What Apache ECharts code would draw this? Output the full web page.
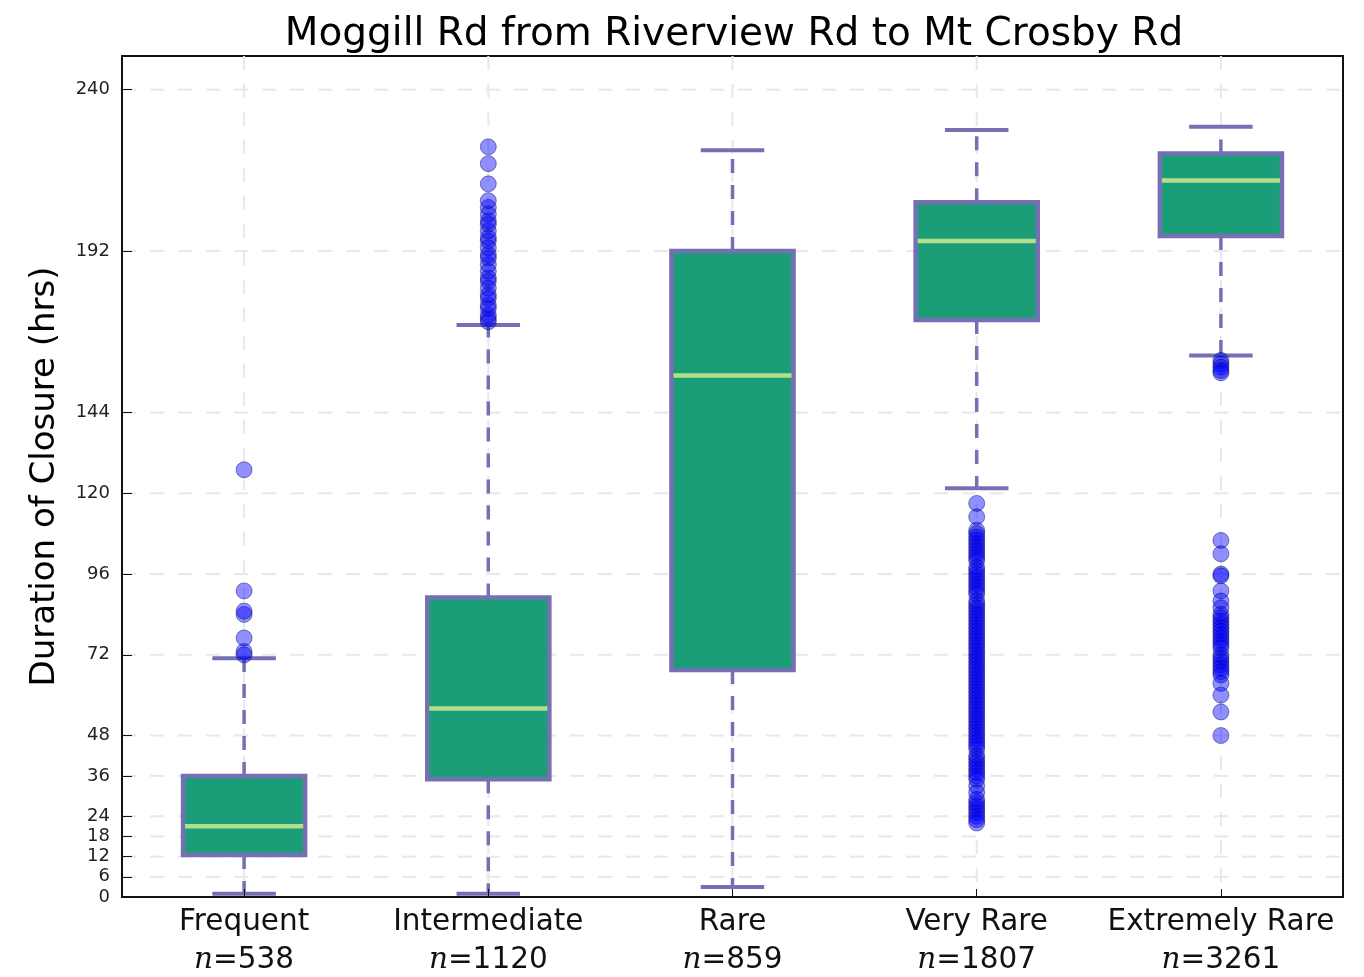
<!DOCTYPE html>
<html>
<head>
<meta charset="utf-8">
<script src="https://cdn.jsdelivr.net/npm/echarts@6/dist/echarts.min.js"></script>
<style>html,body{margin:0;padding:0;background:#fff;}#c{width:1364px;height:977px;}</style>
</head>
<body>
<div id="c"></div>
<script>
const titleText = 'Moggill Rd from Riverview Rd to Mt Crosby Rd';
const yAxisName = 'Duration of Closure (hrs)';
const categories = ['Frequent', 'Intermediate', 'Rare', 'Very Rare', 'Extremely Rare'];
const counts = [538, 1120, 859, 1807, 3261];
const yTicks = [0, 6, 12, 18, 24, 36, 48, 72, 96, 120, 144, 192, 240];
// [lower whisker, Q1, median, Q3, upper whisker]
const boxFrequent = [1, 12.5, 21, 36, 71];
const boxIntermediate = [1, 35, 56, 89, 170];
const boxRare = [3, 67.5, 155, 192, 222];
const boxVeryRare = [121.5, 171.5, 195, 206.5, 228];
const boxExtremelyRare = [161, 196.5, 213, 221, 229];
const outFrequent = [72, 73, 77, 84, 85, 91, 127];
const outIntermediate = [171, 172, 173, 175, 176, 178, 179, 181, 183, 184, 186, 188, 190, 191, 193, 195, 196, 198, 200, 201, 203, 205, 207, 212, 218, 223];
const outRare = [];
const outVeryRare = [117, 113, 109, 108, 107, 106, 105, 104, 103, 102, 101, 100, 98, 97, 96, 95, 94, 93, 92, 91, 90, 88, 87, 86, 85, 84, 83, 82, 81, 80, 79, 78, 77, 76, 75, 74, 73, 72, 71, 70, 69, 68, 67, 66, 65, 64, 63, 62, 61, 60, 59, 58, 57, 56, 55, 54, 53, 52, 51, 50, 49, 48, 47, 46, 45, 44, 42, 41, 40, 39, 38, 37, 36, 35, 33, 31, 29, 28, 27, 26, 25, 24, 23, 22];
const outExtremelyRare = [159.5, 158.5, 157.5, 156.5, 155.8, 106, 102, 96, 95.5, 91, 88, 86, 84, 83, 82, 81, 80, 79, 78, 77, 76, 75, 74, 72, 71, 70, 69, 68, 67, 66, 63.5, 60, 55, 48];

const boxes = [boxFrequent, boxIntermediate, boxRare, boxVeryRare, boxExtremelyRare];
const outliers = [outFrequent, outIntermediate, outRare, outVeryRare, outExtremelyRare];

const boxData = boxes.map((b, i) => [i].concat(b));
const outData = [];
outliers.forEach((arr, i) => arr.forEach(v => outData.push([i, v])));

const PURPLE = '#7570b3', GREEN = '#1b9e77', MED = '#b2df8a';
const FONT = 'DejaVu Sans';
const GRID_STYLE = {stroke: '#e8e8e8', lineWidth: 2, lineDash: [14, 14], fill: null};

const chart = echarts.init(document.getElementById('c'), null, {renderer: 'canvas'});
chart.setOption({
  animation: false,
  backgroundColor: '#fff',
  title: {
    text: titleText, left: 729, top: 10, textAlign: 'center',
    textStyle: {fontFamily: FONT, fontSize: 39, fontWeight: 'normal', color: '#000'}
  },
  grid: {left: 122, right: 21, top: 56, bottom: 80, show: true, borderColor: '#111', borderWidth: 2, backgroundColor: 'transparent'},
  xAxis: {
    type: 'category', data: categories, boundaryGap: true, z: 5,
    axisLine: {show: true, lineStyle: {color: '#111', width: 2}},
    axisTick: {show: true, inside: true, alignWithLabel: true, length: 8, lineStyle: {color: '#111', width: 1}},
    splitLine: {show: false},
    axisLabel: {
      margin: 6,
      formatter: (v, idx) => '{a|' + v + '}\n{i|n}{b|=' + counts[idx] + '}',
      rich: {
        a: {fontFamily: FONT, fontSize: 29.5, color: '#111', lineHeight: 38},
        i: {fontFamily: 'DejaVu Serif', fontStyle: 'italic', fontSize: 29.5, color: '#111', lineHeight: 38},
        b: {fontFamily: FONT, fontSize: 29.5, color: '#111', lineHeight: 38}
      }
    }
  },
  yAxis: {
    type: 'value', min: 0, max: 250, z: 5,
    name: yAxisName, nameLocation: 'middle', nameGap: 60,
    nameTextStyle: {fontFamily: FONT, fontSize: 34, color: '#000'},
    axisLine: {show: true, lineStyle: {color: '#111', width: 2}},
    axisTick: {show: true, inside: true, length: 10, customValues: yTicks, lineStyle: {color: '#111', width: 1}},
    axisLabel: {customValues: yTicks, fontFamily: FONT, fontSize: 18, color: '#222', margin: 12},
    splitLine: {show: false}
  },
  series: [
    {
      // horizontal dashed grid lines at tick values
      type: 'custom', z: 0, silent: true,
      data: yTicks.map(v => [0, v]),
      encode: {x: 0, y: 1},
      renderItem: function (params, api) {
        const cs = params.coordSys;
        const p = api.coord([0, api.value(1)]);
        return {type: 'line', shape: {x1: cs.x, y1: p[1], x2: cs.x + cs.width, y2: p[1]}, style: GRID_STYLE};
      }
    },
    {
      // vertical dashed grid lines at category centres
      type: 'custom', z: 0, silent: true,
      data: categories.map((c, i) => [i, 0]),
      encode: {x: 0, y: 1},
      renderItem: function (params, api) {
        const cs = params.coordSys;
        const p = api.coord([api.value(0), 0]);
        return {type: 'line', shape: {x1: p[0], y1: cs.y, x2: p[0], y2: cs.y + cs.height}, style: GRID_STYLE};
      }
    },
    {
      type: 'custom', z: 2,
      data: boxData,
      encode: {x: 0, y: [1, 2, 3, 4, 5]},
      renderItem: function (params, api) {
        const i = api.value(0);
        const pLow = api.coord([i, api.value(1)]);
        const pQ1 = api.coord([i, api.value(2)]);
        const pMed = api.coord([i, api.value(3)]);
        const pQ3 = api.coord([i, api.value(4)]);
        const pHigh = api.coord([i, api.value(5)]);
        const band = api.size([1, 0])[0];
        const x = pLow[0];
        const bw = band * 0.5, cw = band * 0.26;
        const wStyle = {stroke: PURPLE, lineWidth: 3.5, lineDash: [14, 12], fill: null};
        const cStyle = {stroke: PURPLE, lineWidth: 4, fill: null};
        return {
          type: 'group',
          children: [
            {type: 'line', shape: {x1: x, y1: pQ3[1], x2: x, y2: pHigh[1]}, style: wStyle},
            {type: 'line', shape: {x1: x, y1: pQ1[1], x2: x, y2: pLow[1]}, style: wStyle},
            {type: 'line', shape: {x1: x - cw / 2, y1: pHigh[1], x2: x + cw / 2, y2: pHigh[1]}, style: cStyle},
            {type: 'line', shape: {x1: x - cw / 2, y1: pLow[1], x2: x + cw / 2, y2: pLow[1]}, style: cStyle},
            {type: 'rect', shape: {x: x - bw / 2, y: pQ3[1], width: bw, height: pQ1[1] - pQ3[1]}, style: {fill: GREEN, stroke: PURPLE, lineWidth: 4.5}},
            {type: 'line', shape: {x1: x - bw / 2 + 2, y1: pMed[1], x2: x + bw / 2 - 2, y2: pMed[1]}, style: {stroke: MED, lineWidth: 4.5}}
          ]
        };
      }
    },
    {
      type: 'scatter', z: 3,
      data: outData,
      symbol: 'circle', symbolSize: 16,
      itemStyle: {color: 'rgba(0,0,255,0.55)', borderColor: 'rgba(0,0,80,0.55)', borderWidth: 1}
    }
  ]
});
</script>
</body>
</html>
